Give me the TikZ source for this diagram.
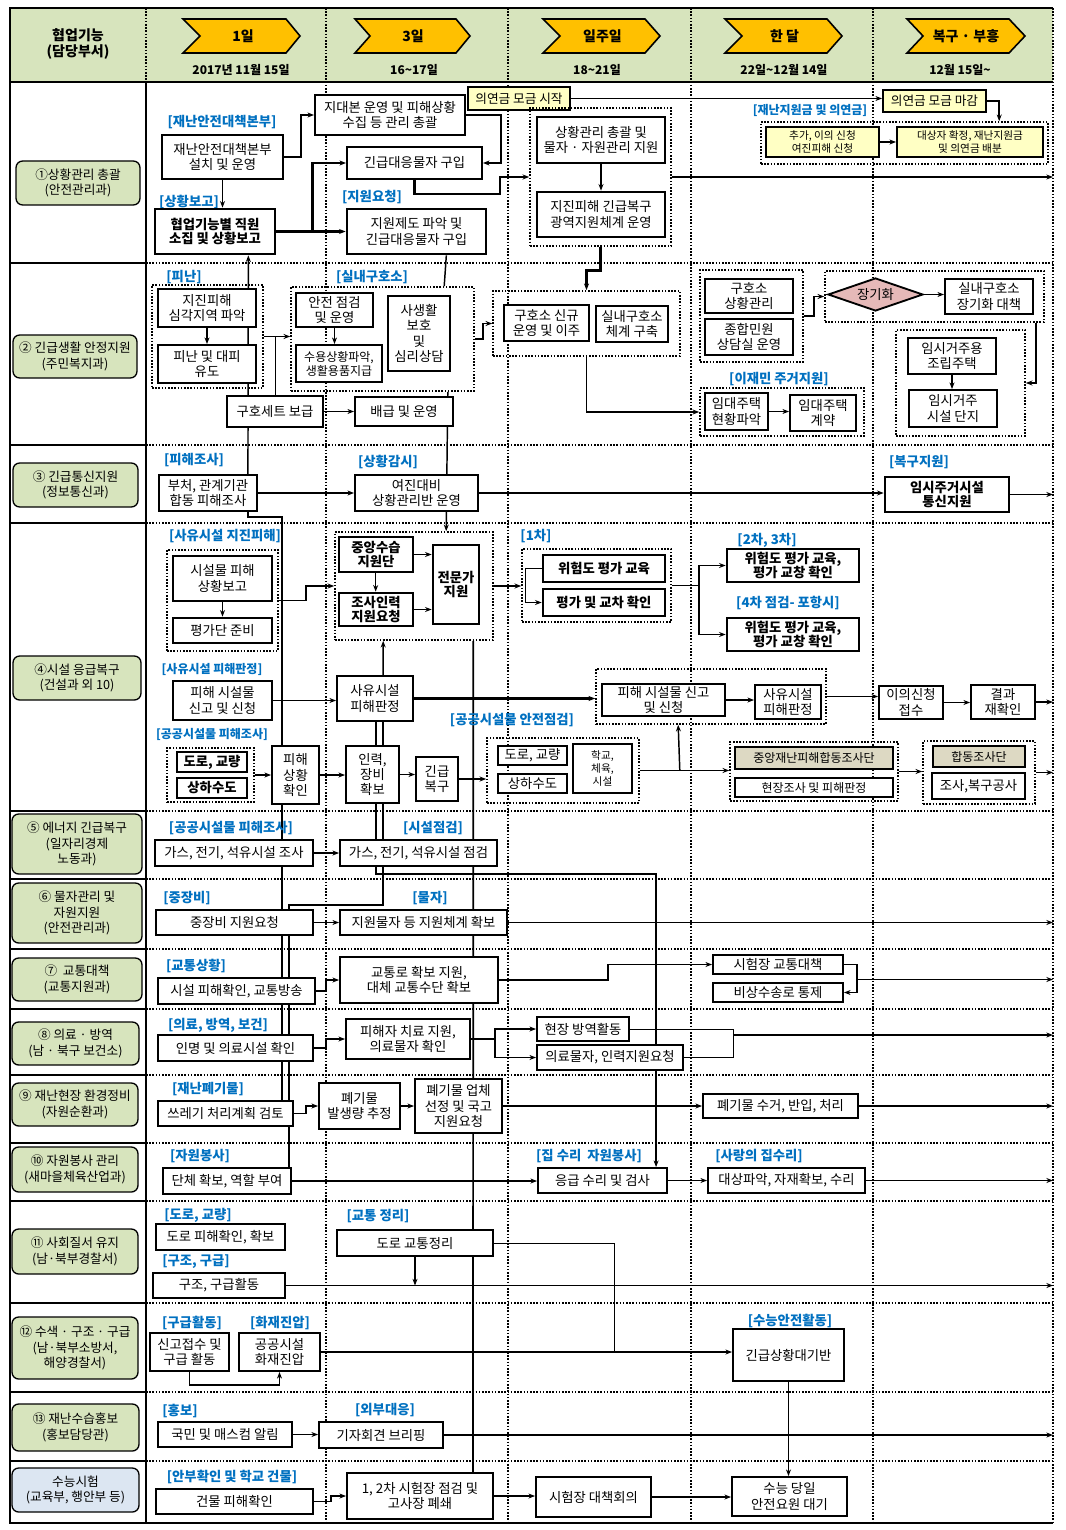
\documentclass[tikz,border=0pt]{standalone}
\usepackage{fontspec}
\setmainfont{Noto Sans CJK KR}
\usetikzlibrary{arrows.meta,shapes.geometric,calc,backgrounds}
\definecolor{hdrgreen}{HTML}{D7E4BD}
\definecolor{chevgold}{HTML}{FFC000}
\definecolor{lblblue}{HTML}{0070C0}
\definecolor{noteyellow}{HTML}{FFFFC4}
\definecolor{tanfill}{HTML}{DDD9C3}
\definecolor{pinkfill}{HTML}{E6B9B8}
\definecolor{examblue}{HTML}{DCE6F2}
\newcommand{\bx}[7][]{%
  \node[box,#1,minimum width={(#5-#3)*0.75pt},minimum height={(#6-#4)*0.75pt}] (#2) at ({(#3+#5)/2},{(#4+#6)/2}) {#7};}
\tikzset{
  box/.style={draw, line width=1.4pt, fill=white, align=center, inner sep=1pt, font=\fontsize{10}{11.5}\selectfont},
  boldbox/.style={line width=2pt, font=\bfseries\fontsize{10}{10.8}\selectfont},
  thickline/.style={line width=2pt},
  notebox/.style={fill=noteyellow, font=\fontsize{9.5}{11}\selectfont},
  tanbox/.style={fill=tanfill, font=\fontsize{9}{10}\selectfont},
  smalltext/.style={font=\fontsize{8}{9.5}\selectfont},
  tighttext/.style={font=\fontsize{9}{10.5}\selectfont},
  grp/.style={fill=none, line width=1.2pt, dash pattern=on 1.2pt off 1.2pt},
  dept/.style={rounded corners=5pt, fill=hdrgreen, line width=1pt, font=\fontsize{9.5}{11.5}\selectfont},
  rhomb/.style={diamond, aspect=3, fill=pinkfill, inner sep=0pt},
  tag/.style={text=lblblue, font=\bfseries\fontsize{10}{11}\selectfont, inner sep=0pt},
  narrowtag/.style={font=\bfseries\fontsize{9}{10}\selectfont},
  link/.style={->, line width=1.1pt},
  heavy/.style={line width=2pt},
  sep/.style={line width=1.3pt, dash pattern=on 1.2pt off 1.2pt},
  frame/.style={line width=2.2pt},
  chevron/.style={draw, fill=chevgold, line width=1.2pt},
  hdrtxt/.style={font=\bfseries\fontsize{10.5}{12.5}\selectfont, align=center},
  datetxt/.style={font=\bfseries\fontsize{9}{10}\selectfont}
}
\begin{document}
\begin{tikzpicture}[x=0.75pt, y=-0.75pt, >={Stealth[length=5pt]}, font=\fontsize{10}{11.5}\selectfont]
\useasboundingbox (0,0) rectangle (1065,1530);
\coordinate (rim) at (1053,0);
\fill[hdrgreen] (10,8) rectangle (1053,82);
\foreach \yy in {263,445,523,811,879,949,1009,1075,1143,1201,1303,1392,1461} {
  \draw[line width=1.6pt] (10,\yy) -- (146,\yy);
  \draw[sep] (146,\yy) -- (1053,\yy);
}
\foreach \xx in {326,508,691,873} \draw[sep] (\xx,8) -- (\xx,1523);
\draw[sep] (146,8) -- (146,82);
\draw[sep] (1053,8) -- (1053,1523);
\draw[frame] (1053,8) -- (10,8) -- (10,1523) -- (1053,1523);
\draw[frame] (10,82) -- (1053,82);
\draw[frame] (146,82) -- (146,1523);

\node[hdrtxt] (hdr) at (78,44) {협업기능\\(담당부서)};
\foreach \xa/\xb/\xc/\xd/\lbl in {183/200/286/300/1일, 355/370/456/470/3일, 543/560/645/660/일주일, 725/742/827/842/한 달, 907/923/1009/1025/복구 · 부흥} {
  \draw[chevron] (\xa,19) -- (\xc,19) -- (\xd,36) -- (\xc,53) -- (\xa,53) -- (\xb,36) -- cycle;
  \node[hdrtxt] (chev\xa) at ({(\xb+\xc)/2},36) {\lbl};
}
\foreach \xx/\dd in {241/2017년 11월 15일, 414/16\textasciitilde17일, 597/18\textasciitilde21일, 784/22일\textasciitilde12월 14일, 960/12월 15일\textasciitilde}
  \node[datetxt] (date\xx) at (\xx,70) {\dd};

\bx[dept]{d1}{16}{161}{140}{205}{①상황관리 총괄\\(안전관리과)}
\bx[dept]{d2}{13}{335}{137}{378}{② 긴급생활 안정지원\\(주민복지과)}
\bx[dept]{d3}{13}{463}{138}{507}{③ 긴급통신지원\\(정보통신과)}
\bx[dept]{d4}{13}{656}{141}{700}{④시설 응급복구\\(건설과 외 10)}
\bx[dept]{d5}{12}{814}{142}{874}{⑤ 에너지 긴급복구\\(일자리경제\\노동과)}
\bx[dept]{d6}{12}{883}{142}{943}{⑥ 물자관리 및\\자원지원\\(안전관리과)}
\bx[dept]{d7}{12}{958}{142}{1001}{⑦\ \ 교통대책\\(교통지원과)}
\bx[dept]{d8}{12}{1022}{139}{1065}{⑧ 의료 · 방역\\(남 · 북구 보건소)}
\bx[dept]{d9}{12}{1083}{138}{1126}{⑨ 재난현장 환경정비\\(자원순환과)}
\bx[dept]{d10}{12}{1147}{138}{1192}{⑩ 자원봉사 관리\\(새마을체육산업과)}
\bx[dept]{d11}{12}{1229}{138}{1274}{⑪ 사회질서 유지\\(남·북부경찰서)}
\bx[dept]{d12}{12}{1317}{138}{1379}{⑫ 수색 · 구조 · 구급\\(남·북부소방서,\\해양경찰서)}
\bx[dept]{d13}{12}{1404}{139}{1451}{⑬ 재난수습홍보\\(홍보담당관)}
\bx[dept,fill=examblue]{d14}{12}{1468}{139}{1512}{수능시험\\(교육부, 행안부 등)}

\node[tag] (tjaenan) at (222,122) {[재난안전대책본부]};
\bx{hq}{162}{135}{283}{179}{재난안전대책본부\\설치 및 운영}
\node[tag] (treport) at (189,202) {[상황보고]};
\bx[boldbox]{muster}{155}{209}{275}{254}{협업기능별 직원\\소집 및 상황보고}
\bx{hqrun}{315}{95}{465}{135}{지대본 운영 및 피해상황\\수집 등 관리 총괄}
\bx{buy}{347}{147}{482}{179}{긴급대응물자 구입}
\node[tag] (treq) at (372,197) {[지원요청]};
\bx[thickline]{scheme}{347}{209}{486}{254}{지원제도 파악 및\\긴급대응물자 구입}
\bx[notebox]{fundstart}{468}{87}{570}{110}{의연금 모금 시작}
\bx[grp]{wkgrp}{530}{108}{671}{246}{}
\bx[thickline]{wkmgmt}{537}{117}{665}{163}{상황관리 총괄 및\\물자 · 자원관리 지원}
\bx[thickline]{wkwide}{537}{192}{665}{237}{지진피해 긴급복구\\광역지원체계 운영}
\bx[notebox]{fundend}{883}{90}{986}{112}{의연금 모금 마감}
\node[tag,narrowtag] (tfund) at (810,110) {[재난지원금 및 의연금]};
\bx[grp]{fundgrp}{761}{122}{1048}{164}{}
\bx[notebox,smalltext]{appeal}{766}{127}{879}{157}{추가, 이의 신청\\여진피해 신청}
\bx[notebox,smalltext]{alloc}{897}{127}{1043}{157}{대상자 확정, 재난지원금\\및 의연금 배분}

\node[tag] (tevac) at (184,277) {[피난]};
\bx[grp]{evacgrp}{152}{285}{263}{388}{}
\bx{severe}{158}{289}{256}{327}{지진피해\\심각지역 파악}
\bx{evac}{158}{345}{256}{383}{피난 및 대피\\유도}
\node[tag] (tshelter) at (372,277) {[실내구호소]};
\bx[grp]{sheltergrp}{291}{287}{474}{391}{}
\bx{inspect}{296}{293}{373}{327}{안전 점검\\및 운영}
\bx[tighttext]{intake}{296}{345}{382}{382}{수용상황파악,\\생활용품지급}
\bx{privacy}{388}{296}{450}{371}{사생활\\보호\\및\\심리상담}
\bx{kit}{227}{396}{323}{427}{구호세트 보급}
\bx{ration}{355}{397}{453}{426}{배급 및 운영}
\bx[grp]{relgrp}{493}{291}{680}{356}{}
\bx{newshelter}{504}{305}{589}{341}{구호소 신규\\운영 및 이주}
\bx{indoorsys}{596}{306}{668}{342}{실내구호소\\체계 구축}
\bx[grp]{caregrp}{700}{270}{803}{362}{}
\bx{sheltermgmt}{705}{279}{793}{313}{구호소\\상황관리}
\bx{counsel}{705}{319}{793}{355}{종합민원\\상담실 운영}
\bx[grp]{longgrp}{825}{271}{1044}{322}{}
\bx[rhomb]{prolong}{828}{278}{923}{311}{장기화}
\bx{longplan}{945}{279}{1033}{314}{실내구호소\\장기화 대책}
\bx[grp]{tempgrp}{896}{330}{1025}{436}{}
\bx{prefab}{908}{338}{996}{374}{임시거주용\\조립주택}
\bx{tempsite}{909}{390}{997}{427}{임시거주\\시설 단지}
\node[tag] (trent) at (779,379) {[이재민 주거지원]};
\bx[grp]{rentgrp}{700}{388}{864}{436}{}
\bx{rentcheck}{705}{393}{768}{430}{임대주택\\현황파악}
\bx{rentsign}{790}{395}{856}{431}{임대주택\\계약}

\node[tag] (tsurvey) at (194,460) {[피해조사]};
\bx{joint}{159}{475}{257}{511}{부처, 관계기관\\합동 피해조사}
\node[tag] (twatch) at (388,462) {[상황감시]};
\bx{aftershock}{355}{475}{478}{511}{여진대비\\상황관리반 운영}
\node[tag] (trecov) at (919,462) {[복구지원]};
\bx[boldbox]{telecom}{885}{477}{1009}{512}{임시주거시설\\통신지원}

\node[tag] (tpriv) at (225,536) {[사유시설 지진피해]};
\bx[grp]{privgrp}{167}{550}{278}{651}{}
\bx[thickline]{privrep}{173}{556}{272}{601}{시설물 피해\\상황보고}
\bx[thickline]{evalprep}{173}{618}{272}{643}{평가단 준비}
\bx[grp]{ctrgrp}{335}{532}{493}{640}{}
\bx[boldbox]{ctrteam}{339}{537}{413}{572}{중앙수습\\지원단}
\bx[boldbox]{staffreq}{339}{593}{413}{626}{조사인력\\지원요청}
\bx[boldbox]{expert}{433}{545}{479}{624}{전문가\\지원}
\node[tag] (tfirst) at (536,536) {[1차]};
\bx[grp]{firstgrp}{522}{549}{671}{622}{}
\bx[boldbox]{riskedu}{543}{555}{665}{582}{위험도 평가 교육}
\bx[boldbox]{crosschk}{543}{589}{665}{616}{평가 및 교차 확인}
\node[tag] (tsecond) at (767,540) {[2차, 3차]};
\bx[boldbox]{second}{727}{549}{859}{582}{위험도 평가 교육,\\평가 교창 확인}
\node[tag] (tfourth) at (788,603) {[4차 점검- 포항시]};
\bx[boldbox]{fourth}{727}{618}{859}{651}{위험도 평가 교육,\\평가 교창 확인}
\node[tag,narrowtag] (tjudge) at (212,669) {[사유시설 피해판정]};
\bx[thickline]{report}{173}{681}{272}{720}{피해 시설물\\신고 및 신청}
\bx{privjudge}{337}{676}{413}{721}{사유시설\\피해판정}
\bx[grp]{filegrp}{596}{669}{826}{724}{}
\bx{file}{602}{684}{725}{716}{피해 시설물 신고\\및 신청}
\bx{filejudge}{755}{685}{821}{719}{사유시설\\피해판정}
\bx{objection}{879}{686}{943}{719}{이의신청\\접수}
\bx{recheck}{971}{685}{1035}{719}{결과\\재확인}
\node[tag,narrowtag] (tpublic) at (212,734) {[공공시설물 피해조사]};
\bx[grp]{pubgrp}{167}{748}{254}{802}{}
\bx[boldbox]{road}{177}{752}{247}{772}{도로, 교량}
\bx[boldbox]{water}{177}{778}{247}{798}{상하수도}
\bx{dmgchk}{272}{746}{319}{804}{피해\\상황\\확인}
\bx{equip}{346}{746}{399}{803}{인력,\\장비\\확보}
\bx{emerg}{416}{757}{458}{801}{긴급\\복구}
\node[tag] (tsafe) at (512,720) {[공공시설물 안전점검]};
\bx[grp]{safegrp}{487}{738}{639}{803}{}
\bx{road2}{498}{746}{567}{765}{도로, 교량}
\bx{water2}{498}{774}{567}{793}{상하수도}
\bx[smalltext]{school}{573}{744}{632}{793}{학교,\\체육,\\시설}
\bx[grp]{jointgrp}{730}{742}{898}{801}{}
\bx[tanbox]{cdjt}{735}{747}{893}{769}{중앙재난피해합동조사단}
\bx[tighttext]{fieldchk}{735}{778}{893}{797}{현장조사 및 피해판정}
\bx[grp]{teamgrp}{923}{741}{1035}{804}{}
\bx[tanbox]{team}{933}{746}{1025}{767}{합동조사단}
\bx{survwork}{932}{773}{1025}{799}{조사,복구공사}

\node[tag] (tpubsurv) at (231,828) {[공공시설물 피해조사]};
\bx{gasinv}{155}{840}{313}{866}{가스, 전기, 석유시설 조사}
\node[tag] (tfacchk) at (433,828) {[시설점검]};
\bx{gaschk}{340}{840}{497}{866}{가스, 전기, 석유시설 점검}

\node[tag] (theavy) at (187,898) {[중장비]};
\bx{heavyreq}{156}{910}{313}{935}{중장비 지원요청}
\node[tag] (tgoods) at (430,898) {[물자]};
\bx{goods}{340}{910}{507}{935}{지원물자 등 지원체계 확보}

\node[tag] (ttraffic) at (196,966) {[교통상황]};
\bx{trafficchk}{158}{978}{315}{1004}{시설 피해확인, 교통방송}
\bx{route}{340}{957}{498}{1003}{교통로 확보 지원,\\대체 교통수단 확보}
\bx{examtraffic}{713}{955}{843}{974}{시험장 교통대책}
\bx{emroute}{713}{983}{843}{1002}{비상수송로 통제}

\node[tag] (tmed) at (218,1025) {[의료, 방역, 보건]};
\bx{casualty}{158}{1035}{313}{1061}{인명 및 의료시설 확인}
\bx{treat}{346}{1019}{470}{1059}{피해자 치료 지원,\\의료물자 확인}
\bx{quarantine}{537}{1017}{629}{1041}{현장 방역활동}
\bx{medsupply}{537}{1045}{683}{1070}{의료물자, 인력지원요청}

\node[tag] (twaste) at (208,1089) {[재난폐기물]};
\bx{trash}{158}{1101}{293}{1126}{쓰레기 처리계획 검토}
\bx{wasteamt}{319}{1083}{400}{1129}{폐기물\\발생량 추정}
\bx{contract}{415}{1079}{502}{1133}{폐기물 업체\\선정 및 국고\\지원요청}
\bx{collect}{703}{1094}{858}{1118}{폐기물 수거, 반입, 처리}

\node[tag] (tvol) at (200,1156) {[자원봉사]};
\bx{volteam}{163}{1168}{291}{1194}{단체 확보, 역할 부여}
\node[tag] (trepairvol) at (589,1156) {[집 수리\ \ 자원봉사]};
\bx{repair}{538}{1168}{667}{1193}{응급 수리 및 검사}
\node[tag] (tlove) at (759,1156) {[사랑의 집수리]};
\bx{loverepair}{708}{1168}{865}{1193}{대상파악, 자재확보, 수리}

\node[tag] (troad) at (198,1215) {[도로, 교량]};
\bx{roadchk}{156}{1224}{285}{1250}{도로 피해확인, 확보}
\node[tag] (trescue) at (196,1262) {[구조, 구급]};
\bx{rescue}{153}{1273}{285}{1298}{구조, 구급활동}
\node[tag] (ttrorder) at (378,1216) {[교통 정리]};
\bx{trorder}{337}{1230}{493}{1256}{도로 교통정리}

\node[tag] (taid) at (192,1323) {[구급활동]};
\node[tag] (tfire) at (280,1323) {[화재진압]};
\bx{report119}{150}{1333}{229}{1371}{신고접수 및\\구급 활동}
\bx{fire}{239}{1333}{320}{1371}{공공시설\\화재진압}
\node[tag] (texamsafe) at (790,1321) {[수능안전활동]};
\bx{standby}{733}{1329}{844}{1381}{긴급상황대기반}

\node[tag] (tpr) at (180,1411) {[홍보]};
\bx{media}{158}{1422}{292}{1447}{국민 및 매스컴 알림}
\node[tag] (text) at (385,1410) {[외부대응]};
\bx{briefing}{319}{1422}{443}{1448}{기자회견 브리핑}

\node[tag] (tschool) at (232,1477) {[안부확인 및 학교 건물]};
\bx{building}{156}{1489}{313}{1514}{건물 피해확인}
\bx{sitechk}{347}{1473}{493}{1519}{1, 2차 시험장 점검 및\\고사장 폐쇄}
\bx{exammeet}{536}{1477}{651}{1517}{시험장 대책회의}
\bx{examday}{732}{1477}{847}{1516}{수능 당일\\안전요원 대기}

\draw[link] (hq.east) -- ++(17,0) |- (hqrun.west);
\draw[link] (hq.south) -- (hq.south |- muster.north);
\draw[link, heavy] (muster.east) -- ++(36,0) |- (buy.west);
\draw[link, heavy] (muster.east) -- (scheme.west);
\draw[link] (hqrun.east) -- ++(35,0) |- (buy.east);
\draw[link, heavy] (buy.south) |- (500,194) |- (wkgrp.west);
\draw[link, heavy] (wkmgmt.south) -- (wkwide.north);
\draw[link] (wkgrp.east) -- (wkgrp.east -| rim);
\draw[link] (fundstart.east) -- (fundstart.east -| fundend.west);
\draw[link] (fundend.east) -| ($(fundgrp.north west)+(239,0)$);
\draw[link] (appeal.east) -- (alloc.west);

\draw[link] (severe.south) -- (evac.north);
\draw[link] (inspect.south) -- (inspect.south |- intake.north);
\draw[link] (evacgrp.east) -- (evacgrp.east -| sheltergrp.west);
\draw (evacgrp.east) -| (kit.north);
\draw[link] (kit.east) -- (kit.east -| ration.west);
\draw[link] (sheltergrp.east) -- ++(8,0) |- (relgrp.west);
\draw[link, heavy] (wkgrp.south) -- ++(0,24) -| (relgrp.north);
\draw[link] (relgrp.south) |- (rentgrp.west);
\draw[link] (caregrp.east) -- ++(10,0) |- (longgrp.west);
\draw[link] (prolong.east) -- (prolong.east -| longplan.west);
\draw[link] ($(longgrp.south east)+(-9,0)$) |- (tempgrp.east);
\draw[link] (prefab.south) -- (prefab.south |- tempsite.north);
\draw[link] (rentcheck.east) -- (rentcheck.east -| rentsign.west);

\draw[link] (joint.east) -- (aftershock.west);
\draw[link] (aftershock.east) -- (aftershock.east -| telecom.west);
\draw[link] (telecom.east) -- (telecom.east -| rim);

\draw[link] (privrep.south) -- (evalprep.north);
\draw[link] (privgrp.east) -- ++(27,0) |- (ctrgrp.west);
\draw[link] ($(ctrteam.south west)+(38,0)$) -- ($(staffreq.north west)+(38,0)$);
\draw[link] (ctrteam.east) -- (ctrteam.east -| expert.west);
\draw[link] (staffreq.east) -- (staffreq.east -| expert.west);
\draw[link] (ctrgrp.east) -- (ctrgrp.east -| firstgrp.west);
\draw[link] (riskedu.west) -- ++(-16,0) |- (crosschk.west);
\draw[link] (firstgrp.east) -- ++(27,0) |- (second.west);
\draw[link] (firstgrp.east) -- ++(27,0) |- (fourth.west);
\draw[link] (report.east) -- (report.east -| privjudge.west);
\draw[link] ($(privjudge.north west)+(47,0)$) -- ($(ctrgrp.south west)+(49,0)$);
\draw[link, heavy] (privjudge.east) -- (privjudge.east -| filegrp.west);
\draw[link] (file.east) -- (file.east -| filejudge.west);
\draw[link] (filegrp.east) -- (filegrp.east -| objection.west);
\draw[link] (objection.east) -- (objection.east -| recheck.west);
\draw[link] (recheck.east) -- (recheck.east -| rim);
\draw[link] (pubgrp.east) -- (pubgrp.east -| dmgchk.west);
\draw[link] (dmgchk.east) -- (dmgchk.east -| equip.west);
\draw[link] (equip.east) -- (equip.east -| emerg.west);
\draw[link] (emerg.east) -- (emerg.east -| safegrp.west);
\draw[link] (safegrp.east) -- (safegrp.east -| jointgrp.west);
\draw[link] ($(safegrp.east)+(40,0)$) -- ($(filegrp.south west)+(83,0)$);
\draw[link] (jointgrp.east) -- (jointgrp.east -| teamgrp.west);
\draw[link] (teamgrp.east) -- (teamgrp.east -| rim);

\draw[link] (gasinv.east) -- (gaschk.west);
\draw[link] (heavyreq.east) -- (goods.west);
\draw[link] (goods.east) -- (goods.east -| rim);

\draw[link] (trafficchk.east) -- ++(10,0) |- (route.west);
\draw[link] (route.east) -- ++(109,0) |- (examtraffic.west);
\draw[link] (examtraffic.east) -- ++(13,0) |- (emroute.east);
\coordinate (trafficjoin) at ($(examtraffic.east)+(13,15)$);
\draw[link] (trafficjoin) -- (trafficjoin -| rim);

\draw[link] (casualty.east) -- ++(12,0) |- (treat.west);
\draw[link] (treat.east) -- ++(24,0) |- (quarantine.west);
\draw[link] (treat.east) -- ++(24,0) |- (medsupply.west);
\draw (quarantine.east) -- ++(103,0) |- (medsupply.east);
\coordinate (medjoin) at ($(quarantine.east)+(103,6)$);
\draw[link] (medjoin) -- (medjoin -| rim);

\draw[link] (trash.east) -- ++(12,0) |- (wasteamt.west);
\draw[link] (wasteamt.east) -- (wasteamt.east -| contract.west);
\draw[link] (contract.east) -- (contract.east -| collect.west);
\draw[link] (collect.east) -- (collect.east -| rim);

\draw[link] (volteam.east) -- (volteam.east -| repair.west);
\draw[link] (repair.east) -- (repair.east -| loverepair.west);
\draw[link] (loverepair.east) -- (loverepair.east -| rim);

\draw[link] (rescue.east) -- (rescue.east -| rim);
\draw[link] (trorder.south) -- (trorder.south |- rescue.east);
\coordinate (firejoin) at ($(fire.east)+(293,0)$);
\draw (trorder.east) -| (firejoin);
\draw[link] (report119.south) -- ++(0,13) -| (fire.south);
\draw[link] (fire.east) -- (fire.east -| standby.west);
\draw[link] (standby.south) -- (standby.south |- examday.north);

\draw[link] (media.east) -- (media.east -| briefing.west);
\draw[link] (briefing.east) -- (briefing.east -| rim);
\draw[link] (building.east) -- ++(17,0) |- (sitechk.west);
\draw[link] (sitechk.east) -- (sitechk.east -| exammeet.west);
\draw[link] (exammeet.east) -- (exammeet.east -| examday.west);

\begin{pgfonlayer}{background}
\draw[link] ($(joint.north east)+(-10,0)$) -- ($(muster.south east)+(-28,0)$);
\draw[line width=1.1pt] ($(joint.south east)+(-10,0)$) -- ++(0,5) -| ($(trash.north west)+(125,0)$);
\draw[line width=1.1pt] ($(scheme.south east)+(-41,0)$) -- ($(sheltergrp.north west)+(154,0)$);
\draw[link] ($(sheltergrp.south east)+(-27,0)$) -- ($(ctrgrp.north west)+(112,0)$);
\draw[line width=1.3pt] ($(ctrgrp.south west)+(139,0)$) -- ($(sitechk.north west)+(127,0)$);
\draw[link] ($(privjudge.south west)+(40,0)$) -- ++(0,152) -| ($(repair.north west)+(119,0)$);
\draw[line width=1.1pt] ($(privjudge.south west)+(47,0)$) -- ++(0,183) -| ($(volteam.north west)+(127,0)$);
\end{pgfonlayer}
\end{tikzpicture}
\end{document}
